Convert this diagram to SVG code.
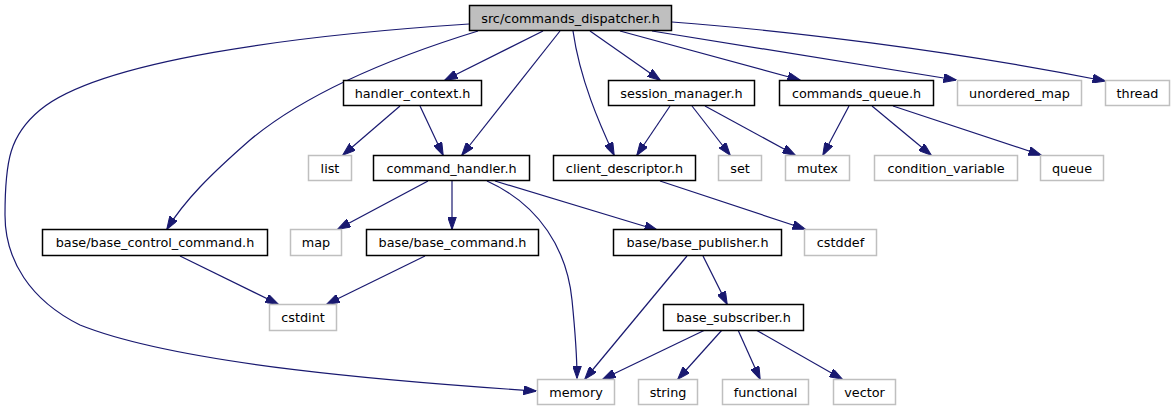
<svg xmlns="http://www.w3.org/2000/svg" width="1175" height="411" viewBox="0 0 1175 411">
<style>
.n rect{fill:#fff;stroke:#000;stroke-width:1.5}
.s rect{fill:#fff;stroke:#bfbfbf;stroke-width:1.5}
.r rect{fill:#bfbfbf;stroke:#000;stroke-width:1.5}
text{font-family:"DejaVu Sans",sans-serif;font-size:12.8px;fill:#000;text-anchor:middle}
#edges path{fill:none;stroke:#191970;stroke-width:1.2;marker-end:url(#a)}
</style>
<defs>
<marker id="a" viewBox="0 0 13 9" refX="12.5" refY="4.5" markerWidth="13" markerHeight="9" orient="auto" markerUnits="userSpaceOnUse">
<path d="M0,0 L13,4.5 L0,9 z" fill="#191970" stroke="#191970" stroke-width="1"/>
</marker>
</defs>
<rect width="1175" height="411" fill="#fff"/>
<g id="edges">
<path d="M469,24 C300,35 100,60 40,110 C10,135 5,160 5,215 C5,260 30,300 80,325 C180,365 400,382 536,391"/>
<path d="M478,31 C400,55 310,90 250,140 C210,175 185,200 167,229"/>
<path d="M543,31 L445,80"/>
<path d="M560,31 L462,155"/>
<path d="M573,31 C580,80 600,125 614,155"/>
<path d="M590,31 L660,80"/>
<path d="M620,31 L800,80"/>
<path d="M652,31 L956,80"/>
<path d="M672,22 C780,30 950,50 1105,81"/>
<path d="M400,106 L343,155"/>
<path d="M420,106 L443,155"/>
<path d="M670,106 L637,155"/>
<path d="M692,106 L730,155"/>
<path d="M705,106 L795,155"/>
<path d="M849,106 L823,155"/>
<path d="M872,106 L931,155"/>
<path d="M893,106 L1041,155"/>
<path d="M428,181 L338,229"/>
<path d="M452,181 L452,229"/>
<path d="M487,181 C540,205 567,250 572,300 C576,340 577,360 577,378"/>
<path d="M495,181 L657,230"/>
<path d="M660,181 L805,229"/>
<path d="M180,256 L278,304"/>
<path d="M425,256 L327,304"/>
<path d="M687,256 L585,379"/>
<path d="M703,256 L727,304"/>
<path d="M705,330 L603,379"/>
<path d="M722,330 L678,379"/>
<path d="M738,330 L760,379"/>
<path d="M756,330 L842,379"/>
</g>
<g id="root" class="r"><rect x="469.5" y="5.5" width="202" height="25"/><text x="570.5" y="22.5">src/commands_dispatcher.h</text></g>
<g id="handler_context" class="n"><rect x="343.5" y="80.5" width="138" height="25"/><text x="412.5" y="97.5">handler_context.h</text></g>
<g id="session_manager" class="n"><rect x="608.5" y="80.5" width="146" height="25"/><text x="681.5" y="97.5">session_manager.h</text></g>
<g id="commands_queue" class="n"><rect x="779.5" y="80.5" width="154" height="25"/><text x="856.5" y="97.5">commands_queue.h</text></g>
<g id="unordered_map" class="s"><rect x="957.5" y="80.5" width="124" height="25"/><text x="1019.5" y="97.5">unordered_map</text></g>
<g id="thread" class="s"><rect x="1105.5" y="80.5" width="64" height="25"/><text x="1137.5" y="97.5">thread</text></g>
<g id="list" class="s"><rect x="308.5" y="155.5" width="43" height="25"/><text x="330" y="172.5">list</text></g>
<g id="command_handler" class="n"><rect x="373.5" y="155.5" width="156" height="25"/><text x="451.5" y="172.5">command_handler.h</text></g>
<g id="client_descriptor" class="n"><rect x="553.5" y="155.5" width="142" height="25"/><text x="624.5" y="172.5">client_descriptor.h</text></g>
<g id="set" class="s"><rect x="718.5" y="155.5" width="43" height="25"/><text x="740" y="172.5">set</text></g>
<g id="mutex" class="s"><rect x="785.5" y="155.5" width="64" height="25"/><text x="817.5" y="172.5">mutex</text></g>
<g id="condition_variable" class="s"><rect x="874.5" y="155.5" width="143" height="25"/><text x="946" y="172.5">condition_variable</text></g>
<g id="queue" class="s"><rect x="1040.5" y="155.5" width="63" height="25"/><text x="1072" y="172.5">queue</text></g>
<g id="base_control_command" class="n"><rect x="42.5" y="229.5" width="225" height="26"/><text x="155" y="247">base/base_control_command.h</text></g>
<g id="map" class="s"><rect x="290.5" y="229.5" width="51" height="26"/><text x="316" y="247">map</text></g>
<g id="base_command" class="n"><rect x="366.5" y="229.5" width="172" height="26"/><text x="452.5" y="247">base/base_command.h</text></g>
<g id="base_publisher" class="n"><rect x="613.5" y="229.5" width="168" height="26"/><text x="697.5" y="247">base/base_publisher.h</text></g>
<g id="cstddef" class="s"><rect x="804.5" y="229.5" width="72" height="26"/><text x="840.5" y="247">cstddef</text></g>
<g id="cstdint" class="s"><rect x="269.5" y="304.5" width="67" height="26"/><text x="303" y="322">cstdint</text></g>
<g id="base_subscriber" class="n"><rect x="663.5" y="304.5" width="140" height="26"/><text x="733.5" y="322">base_subscriber.h</text></g>
<g id="memory" class="s"><rect x="537.5" y="379.5" width="77" height="25"/><text x="576" y="396.5">memory</text></g>
<g id="string" class="s"><rect x="638.5" y="379.5" width="59" height="25"/><text x="668" y="396.5">string</text></g>
<g id="functional" class="s"><rect x="722.5" y="379.5" width="86" height="25"/><text x="765.5" y="396.5">functional</text></g>
<g id="vector" class="s"><rect x="833.5" y="379.5" width="62" height="25"/><text x="864.5" y="396.5">vector</text></g>
</svg>
